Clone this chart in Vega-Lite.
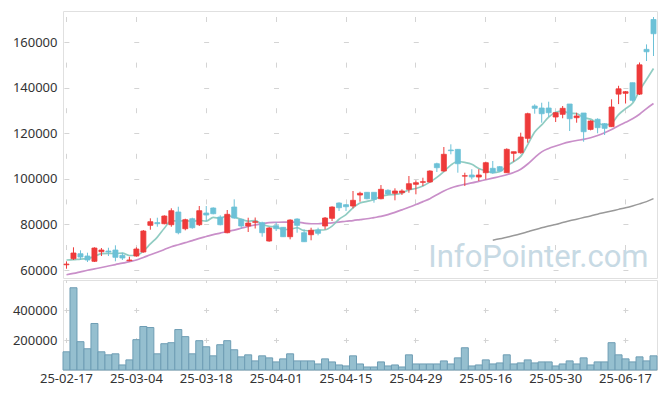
{
  "$schema": "https://vega.github.io/schema/vega-lite/v6.json",
  "padding": {"left": 11, "top": 10, "right": 9, "bottom": 5},
  "background": "white",
  "spacing": 0,
  "config": {
    "view": {"stroke": "#e0e0e0"},
    "axis": {"labelFont": "Noto Sans", "labelFontSize": 13, "labelColor": "#333333", "gridColor": "#d4d4d4", "gridWidth": 1}
  },
  "data": {"values": [
    {"d":"25-02-17","o":62300,"h":63800,"l":60570,"c":62600,"v":121300,"m5":64390,"m20":57940},
    {"d":"25-02-18","o":64960,"h":69960,"l":64390,"c":67460,"v":548300,"m5":64520,"m20":58500},
    {"d":"25-02-19","o":67150,"h":68640,"l":64390,"c":65700,"v":188700,"m5":64820,"m20":59200},
    {"d":"25-02-20","o":66140,"h":67590,"l":63510,"c":64390,"v":141600,"m5":64960,"m20":59900},
    {"d":"25-02-21","o":63820,"h":69960,"l":63510,"c":69650,"v":310100,"m5":65940,"m20":60500},
    {"d":"25-02-24","o":68030,"h":69650,"l":66140,"c":68770,"v":121300,"m5":67194,"m20":61100},
    {"d":"25-02-25","o":68330,"h":69780,"l":66140,"c":67900,"v":101100,"m5":67282,"m20":61750},
    {"d":"25-02-26","o":68770,"h":70830,"l":63820,"c":65570,"v":107900,"m5":67256,"m20":62400},
    {"d":"25-02-27","o":66450,"h":67590,"l":64390,"c":65260,"v":33700,"m5":67430,"m20":63000},
    {"d":"25-02-28","o":64080,"h":65830,"l":63820,"c":64390,"v":67400,"m5":66378,"m20":63700},
    {"d":"25-03-04","o":66140,"h":69960,"l":65830,"c":69210,"v":202200,"m5":66466,"m20":64400},
    {"d":"25-03-05","o":67900,"h":77540,"l":67590,"c":77100,"v":289900,"m5":68306,"m20":65500},
    {"d":"25-03-06","o":79600,"h":82680,"l":77680,"c":81180,"v":283100,"m5":71428,"m20":66700},
    {"d":"25-03-07","o":80790,"h":82940,"l":79000,"c":80310,"v":107900,"m5":74438,"m20":67800},
    {"d":"25-03-10","o":80310,"h":83990,"l":80040,"c":83680,"v":175300,"m5":78296,"m20":69000},
    {"d":"25-03-11","o":79870,"h":87060,"l":78990,"c":86010,"v":182000,"m5":81656,"m20":70200},
    {"d":"25-03-12","o":85440,"h":87760,"l":75660,"c":76360,"v":269600,"m5":81508,"m20":71100},
    {"d":"25-03-13","o":78110,"h":82500,"l":77410,"c":82060,"v":222500,"m5":81684,"m20":72000},
    {"d":"25-03-14","o":82500,"h":82940,"l":78110,"c":78550,"v":107900,"m5":81332,"m20":72900},
    {"d":"25-03-17","o":79870,"h":88070,"l":79300,"c":86010,"v":195500,"m5":81798,"m20":73900},
    {"d":"25-03-18","o":85000,"h":88070,"l":81490,"c":84120,"v":155000,"m5":81420,"m20":74700},
    {"d":"25-03-19","o":87190,"h":87500,"l":84430,"c":84690,"v":94400,"m5":83086,"m20":75500},
    {"d":"25-03-20","o":83250,"h":83990,"l":79600,"c":79870,"v":168500,"m5":82648,"m20":76200},
    {"d":"25-03-21","o":76360,"h":86320,"l":76100,"c":84430,"v":195500,"m5":83824,"m20":76900},
    {"d":"25-03-24","o":87630,"h":91010,"l":82500,"c":82810,"v":134800,"m5":83184,"m20":77500},
    {"d":"25-03-25","o":82240,"h":82500,"l":78110,"c":79300,"v":87600,"m5":82220,"m20":78300},
    {"d":"25-03-26","o":79300,"h":82940,"l":76670,"c":80610,"v":101100,"m5":81404,"m20":79100},
    {"d":"25-03-27","o":80920,"h":83030,"l":78200,"c":81180,"v":60700,"m5":81666,"m20":79800},
    {"d":"25-03-28","o":80750,"h":81180,"l":74600,"c":76360,"v":94400,"m5":80052,"m20":80300},
    {"d":"25-03-31","o":72720,"h":78860,"l":72410,"c":78420,"v":80900,"m5":79174,"m20":80800},
    {"d":"25-04-01","o":79430,"h":80920,"l":77100,"c":78110,"v":53900,"m5":78936,"m20":80900},
    {"d":"25-04-02","o":78730,"h":78860,"l":74470,"c":74600,"v":74200,"m5":77734,"m20":81000},
    {"d":"25-04-03","o":74600,"h":82240,"l":73460,"c":81930,"v":107900,"m5":77884,"m20":81000},
    {"d":"25-04-04","o":82370,"h":82680,"l":76360,"c":79600,"v":60700,"m5":78532,"m20":81000},
    {"d":"25-04-07","o":76360,"h":77850,"l":72280,"c":72410,"v":60700,"m5":77330,"m20":80600},
    {"d":"25-04-08","o":75480,"h":78550,"l":73030,"c":77410,"v":60700,"m5":77190,"m20":80300},
    {"d":"25-04-09","o":77540,"h":78550,"l":75220,"c":76100,"v":40400,"m5":77490,"m20":80300},
    {"d":"25-04-10","o":79300,"h":83250,"l":77850,"c":82810,"v":74200,"m5":77666,"m20":80500},
    {"d":"25-04-11","o":82680,"h":87940,"l":81490,"c":87630,"v":53900,"m5":79272,"m20":80700},
    {"d":"25-04-14","o":89390,"h":89690,"l":85880,"c":87330,"v":33700,"m5":82256,"m20":81000},
    {"d":"25-04-15","o":88640,"h":88930,"l":85880,"c":87760,"v":27000,"m5":84326,"m20":81400},
    {"d":"25-04-16","o":88070,"h":94650,"l":87060,"c":90570,"v":94400,"m5":87220,"m20":81700},
    {"d":"25-04-17","o":92900,"h":94340,"l":89960,"c":93640,"v":40400,"m5":89386,"m20":82100},
    {"d":"25-04-18","o":94080,"h":94210,"l":91010,"c":91270,"v":20200,"m5":90114,"m20":82500},
    {"d":"25-04-21","o":94080,"h":94080,"l":89520,"c":91010,"v":20200,"m5":90850,"m20":83000},
    {"d":"25-04-22","o":91270,"h":97280,"l":91010,"c":95390,"v":53900,"m5":92376,"m20":83500},
    {"d":"25-04-23","o":94960,"h":95390,"l":92900,"c":93330,"v":27000,"m5":92928,"m20":84300},
    {"d":"25-04-24","o":93640,"h":95830,"l":90570,"c":94650,"v":33700,"m5":93130,"m20":85300},
    {"d":"25-04-25","o":93900,"h":95390,"l":92900,"c":94650,"v":20200,"m5":93806,"m20":86400},
    {"d":"25-04-28","o":95390,"h":101230,"l":93900,"c":97850,"v":101100,"m5":95174,"m20":87500},
    {"d":"25-04-29","o":97590,"h":99340,"l":93200,"c":98290,"v":40400,"m5":95754,"m20":88700},
    {"d":"25-04-30","o":98460,"h":100480,"l":96840,"c":98730,"v":40400,"m5":96834,"m20":90000},
    {"d":"25-05-02","o":98600,"h":103730,"l":98290,"c":103420,"v":40400,"m5":98588,"m20":91300},
    {"d":"25-05-07","o":106620,"h":107060,"l":102980,"c":104870,"v":40400,"m5":100632,"m20":93000},
    {"d":"25-05-08","o":103420,"h":113950,"l":103120,"c":110750,"v":60700,"m5":103212,"m20":94700},
    {"d":"25-05-09","o":112630,"h":115130,"l":110750,"c":112330,"v":40400,"m5":106020,"m20":96000},
    {"d":"25-05-12","o":112930,"h":113070,"l":102680,"c":106620,"v":80900,"m5":107598,"m20":96900},
    {"d":"25-05-13","o":101180,"h":102680,"l":96840,"c":101360,"v":148300,"m5":107186,"m20":97600},
    {"d":"25-05-14","o":101670,"h":104210,"l":99780,"c":100790,"v":27000,"m5":106370,"m20":98200},
    {"d":"25-05-15","o":100790,"h":104210,"l":99040,"c":101670,"v":33700,"m5":104554,"m20":98900},
    {"d":"25-05-16","o":102680,"h":107500,"l":99780,"c":107060,"v":67400,"m5":103500,"m20":99600},
    {"d":"25-05-19","o":104610,"h":107810,"l":102240,"c":102680,"v":40400,"m5":102712,"m20":100300,"m60":73100},
    {"d":"25-05-20","o":105310,"h":105610,"l":103130,"c":103420,"v":47200,"m5":103124,"m20":101000,"m60":73700},
    {"d":"25-05-21","o":102680,"h":113370,"l":102680,"c":112930,"v":101100,"m5":105552,"m20":101800,"m60":74400},
    {"d":"25-05-22","o":111180,"h":111880,"l":107500,"c":111880,"v":40400,"m5":107594,"m20":102800,"m60":75100},
    {"d":"25-05-23","o":111440,"h":120220,"l":111010,"c":118330,"v":47200,"m5":109848,"m20":104200,"m60":75900},
    {"d":"25-05-26","o":117760,"h":128990,"l":115830,"c":128550,"v":67400,"m5":115022,"m20":106500,"m60":76800},
    {"d":"25-05-27","o":131930,"h":132670,"l":128550,"c":130920,"v":47200,"m5":120522,"m20":109300,"m60":77700},
    {"d":"25-05-28","o":131050,"h":133380,"l":124610,"c":128550,"v":53900,"m5":123646,"m20":111800,"m60":78500},
    {"d":"25-05-29","o":131050,"h":133820,"l":127110,"c":128990,"v":53900,"m5":127068,"m20":113300,"m60":79300},
    {"d":"25-05-30","o":127110,"h":129300,"l":124910,"c":128990,"v":27000,"m5":129200,"m20":114400,"m60":80000},
    {"d":"25-06-02","o":128290,"h":131930,"l":126540,"c":130920,"v":40400,"m5":129674,"m20":115400,"m60":80800},
    {"d":"25-06-04","o":132810,"h":132810,"l":120970,"c":126360,"v":60700,"m5":128762,"m20":116200,"m60":81600},
    {"d":"25-06-05","o":126800,"h":128990,"l":124610,"c":127550,"v":40400,"m5":128562,"m20":116800,"m60":82300},
    {"d":"25-06-09","o":128860,"h":128860,"l":116280,"c":120660,"v":80900,"m5":126896,"m20":117300,"m60":83000},
    {"d":"25-06-10","o":121670,"h":125660,"l":121240,"c":125350,"v":33700,"m5":126168,"m20":118000,"m60":83700},
    {"d":"25-06-11","o":126100,"h":126540,"l":119960,"c":122420,"v":53900,"m5":124468,"m20":119000,"m60":84500},
    {"d":"25-06-12","o":124170,"h":124470,"l":119210,"c":122150,"v":53900,"m5":123626,"m20":120200,"m60":85200},
    {"d":"25-06-13","o":122860,"h":134870,"l":122720,"c":131490,"v":182000,"m5":124414,"m20":121600,"m60":85900},
    {"d":"25-06-16","o":137150,"h":140800,"l":132770,"c":139480,"v":101100,"m5":128178,"m20":123300,"m60":86600},
    {"d":"25-06-17","o":137500,"h":138510,"l":133030,"c":138200,"v":74200,"m5":130748,"m20":124800,"m60":87300},
    {"d":"25-06-18","o":142150,"h":142150,"l":133820,"c":134430,"v":53900,"m5":133150,"m20":126300,"m60":88100},
    {"d":"25-06-19","o":137150,"h":151020,"l":136760,"c":150000,"v":87600,"m5":138720,"m20":128300,"m60":89000},
    {"d":"25-06-20","o":156770,"h":158960,"l":151660,"c":155720,"v":60700,"m5":143566,"m20":130800,"m60":90000},
    {"d":"25-06-23","o":169870,"h":170960,"l":153860,"c":163640,"v":94400,"m5":148398,"m20":133000,"m60":91300}
  ]},
  "vconcat": [
    {
      "width": 594,
      "height": 267,
      "encoding": {
        "x": {"field": "d", "type": "ordinal",
          "scale": {"paddingInner": 0, "paddingOuter": 0},
          "axis": {"title": null, "labels": false, "ticks": false, "domain": false, "grid": true, "bandPosition": 0.5,
            "values": ["25-02-17","25-03-04","25-03-18","25-04-01","25-04-15","25-04-29","25-05-16","25-05-30","25-06-17"],
            "gridDash": [5, 40.6], "gridDashOffset": 40.1}}
      },
      "layer": [
        {
          "mark": {"type": "line", "color": "#999999", "strokeWidth": 1.5, "interpolate": "monotone"},
          "encoding": {"y": {"field": "m60", "type": "quantitative"}}
        },
        {
          "mark": {"type": "line", "color": "#c98fc9", "strokeWidth": 1.7, "interpolate": "monotone"},
          "encoding": {"y": {"field": "m20", "type": "quantitative"}}
        },
        {
          "mark": {"type": "line", "color": "#84c7bb", "strokeWidth": 1.7, "opacity": 0.9, "interpolate": "monotone"},
          "encoding": {"y": {"field": "m5", "type": "quantitative"}}
        },
        {
          "mark": {"type": "rule", "strokeWidth": 1},
          "encoding": {
            "y": {"field": "l", "type": "quantitative"},
            "y2": {"field": "h"},
            "color": {"condition": {"test": "datum.c >= datum.o", "value": "#ee3a3a"}, "value": "#6cc1d7"}
          }
        },
        {
          "mark": {"type": "bar", "width": {"band": 0.72}, "strokeWidth": 0.8},
          "encoding": {
            "y": {"field": "o", "type": "quantitative",
              "scale": {"domain": [56500, 173600], "zero": false, "nice": false},
              "axis": {"title": null, "values": [60000, 80000, 100000, 120000, 140000, 160000], "format": "d", "ticks": false, "domain": false, "labelPadding": 6,
                "grid": true, "gridDash": [5, 64.88], "gridDashOffset": 69}},
            "y2": {"field": "c"},
            "color": {"condition": {"test": "datum.c >= datum.o", "value": "#ee3a3a"}, "value": "#6cc1d7"},
            "stroke": {"condition": {"test": "datum.c >= datum.o", "value": "#ee3a3a"}, "value": "#6cc1d7"}
          }
        },
        {
          "data": {"values": [{"t": "InfoPointer.com", "d": "25-06-23"}]},
          "mark": {"type": "text", "font": "Roboto", "fontSize": 31, "color": "#c2d6e2", "opacity": 0.9, "align": "right", "baseline": "alphabetic", "dx": -5},
          "encoding": {"x": {"field": "d", "type": "ordinal"}, "y": {"datum": 61450}, "text": {"field": "t"}}
        }
      ]
    },
    {
      "width": 594,
      "height": 90,
      "mark": {"type": "bar", "color": "#95bfcf", "stroke": "#6e9db4", "strokeWidth": 1},
      "encoding": {
        "x": {"field": "d", "type": "ordinal",
          "scale": {"paddingInner": 0, "paddingOuter": 0},
          "axis": {"title": null, "labelAngle": 0, "ticks": false, "domain": false, "labelPadding": 2, "grid": true, "bandPosition": 0.5,
            "values": ["25-02-17","25-03-04","25-03-18","25-04-01","25-04-15","25-04-29","25-05-16","25-05-30","25-06-17"],
            "gridDash": [5, 25], "gridDashOffset": 2.5}},
        "y": {"field": "v", "type": "quantitative",
          "scale": {"domain": [0, 600000], "nice": false},
          "axis": {"title": null, "values": [200000, 400000], "format": "d", "ticks": false, "domain": false, "labelPadding": 6,
            "grid": true, "gridDash": [5, 64.88], "gridDashOffset": 69}}
      }
    }
  ]
}
